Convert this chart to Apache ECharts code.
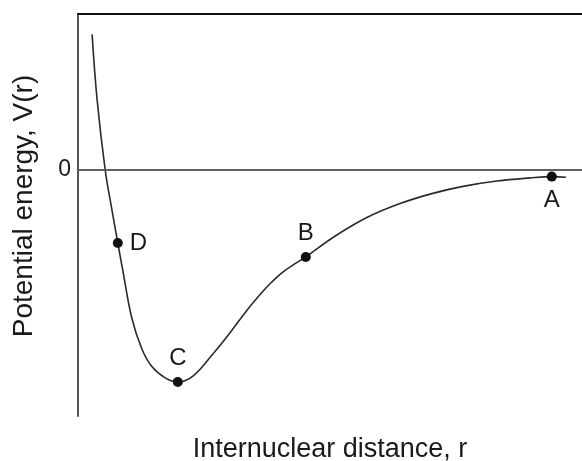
<!DOCTYPE html>
<html>
<head>
<meta charset="utf-8">
<title>Potential energy curve</title>
<script src="https://cdn.jsdelivr.net/npm/echarts@6/dist/echarts.min.js"></script>
<style>
	html, body { margin: 0; padding: 0; background: #fff; }
	#main { width: 582px; height: 461px; }
</style>
</head>
<body>
<div id="main"></div>
<script>
'use strict';
// curve: r (arbitrary units), V(r) (well depth = -1)
var curveR = [0.28, 0.38, 0.54, 0.66, 0.79, 0.89, 1.07, 1.27, 1.47, 1.73, 1.98, 2.28, 2.68, 3.02, 3.35, 3.67, 3.85, 4.05, 4.27, 4.52, 5.06, 5.73, 6.39, 7.04, 7.64, 8.31, 8.97, 9.40, 9.68];
var curveV = [0.64, 0.33, 0.0, -0.17, -0.344, -0.475, -0.70, -0.845, -0.928, -0.98, -1.0, -0.972, -0.866, -0.766, -0.662, -0.572, -0.527, -0.484, -0.447, -0.41, -0.318, -0.224, -0.158, -0.11, -0.077, -0.052, -0.037, -0.031, -0.034];

// labelled points
var pointNames = ['D', 'C', 'B', 'A'];
var pointR = [0.79, 1.98, 4.52, 9.40];
var pointV = [-0.344, -1.0, -0.41, -0.031];
var pointLabelPos = ['right', 'top', 'top', 'bottom'];

var yTicks = [0];
var xTitle = 'Internuclear distance, r';
var yTitle = 'Potential energy, V(r)';

(function() {
	var font = 'Liberation Sans, Arial, Helvetica, sans-serif';
	var txt = '#1a1a1a';

	function curveData() {
		var arr = [];
		for (var i = 0; i < curveR.length; i++) {
			arr.push([curveR[i], curveV[i]]);
		}
		return arr;
	}

	function pointData() {
		var arr = [];
		for (var i = 0; i < pointNames.length; i++) {
			arr.push({
				name: pointNames[i],
				value: [pointR[i], pointV[i]],
				label: {
					position: pointLabelPos[i]
				}
			});
		}
		return arr;
	}

	var myChart = echarts.init(document.getElementById('main'), null, { renderer: 'canvas' });
	var option = {
		animation: false,
		backgroundColor: '#fff',
		grid: {
			left: 78,
			right: 0,
			top: 14,
			bottom: 45,
			outerBoundsMode: 'none',
			containLabel: false,
			show: false
		},
		xAxis: [{
			type: 'value',
			min: 0,
			max: 10,
			position: 'bottom',
			name: xTitle,
			nameLocation: 'middle',
			nameGap: 20,
			nameTextStyle: { fontFamily: font, fontSize: 27, color: txt, verticalAlign: 'top' },
			axisLine: { show: true, lineStyle: { color: '#555', width: 2 } },
			axisTick: { show: false },
			axisLabel: { show: false },
			splitLine: { show: false }
		}, {
			type: 'value',
			min: 0,
			max: 10,
			position: 'top',
			axisLine: { show: true, lineStyle: { color: '#111', width: 2 } },
			axisTick: { show: false },
			axisLabel: { show: false },
			splitLine: { show: false }
		}],
		yAxis: {
			type: 'value',
			min: -1.16,
			max: 0.736,
			name: yTitle,
			nameLocation: 'middle',
			nameGap: 40,
			nameTextStyle: { fontFamily: font, fontSize: 28, color: txt, padding: [0, 0, 0, 18] },
			axisLine: { show: true, lineStyle: { color: '#555', width: 2 } },
			axisTick: { show: false },
			axisLabel: {
				customValues: yTicks,
				fontFamily: font,
				fontSize: 23,
				color: txt,
				margin: 7
			},
			splitLine: { show: false }
		},
		series: [{
			type: 'line',
			data: curveData(),
			smooth: 0.4,
			showSymbol: false,
			lineStyle: { color: '#2a2a2a', width: 1.6 },
			markLine: {
				silent: true,
				symbol: 'none',
				label: { show: false },
				lineStyle: { color: '#666', width: 1.5, type: 'solid' },
				data: [{ yAxis: 0 }]
			},
			z: 3
		}, {
			type: 'scatter',
			data: pointData(),
			symbolSize: 10,
			itemStyle: { color: '#111', opacity: 1 },
			label: {
				show: true,
				formatter: '{b}',
				fontFamily: font,
				fontSize: 24,
				color: txt,
				distance: 7
			},
			z: 4
		}]
	};
	myChart.setOption(option);
})();
</script>
</body>
</html>
